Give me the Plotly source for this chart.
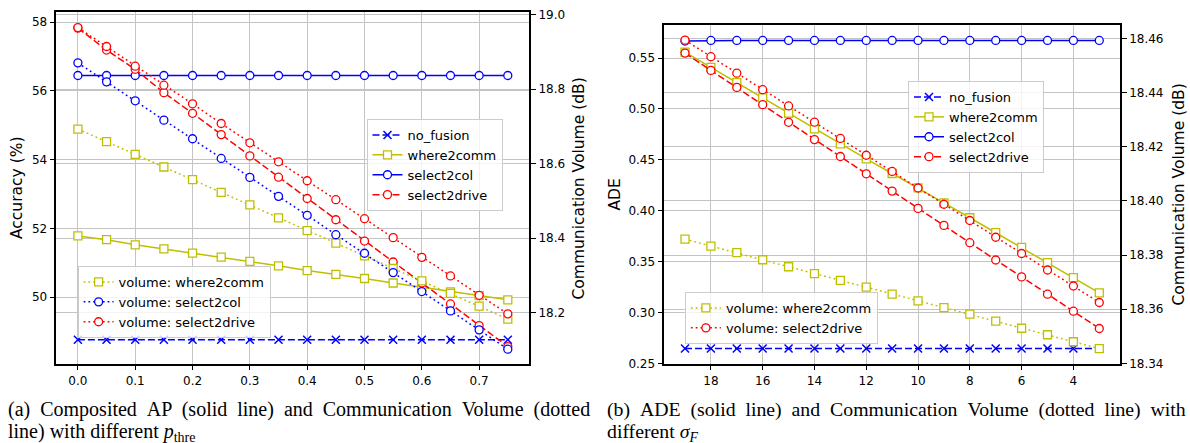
import plotly.graph_objects as go

# ---------------- data: panel (a) ----------------
p_thre = [0.0, 0.05, 0.1, 0.15, 0.2, 0.25, 0.3, 0.35, 0.4, 0.45, 0.5, 0.55, 0.6, 0.65, 0.7, 0.75]
acc_no_fusion = [48.76, 48.76, 48.76, 48.76, 48.76, 48.76, 48.76, 48.76, 48.76, 48.76, 48.76, 48.76, 48.76, 48.76, 48.76, 48.76]
acc_where2comm = [51.78, 51.67, 51.52, 51.40, 51.28, 51.16, 51.04, 50.91, 50.77, 50.66, 50.54, 50.41, 50.29, 50.15, 50.04, 49.92]
acc_select2col = [56.45, 56.45, 56.45, 56.45, 56.45, 56.45, 56.45, 56.45, 56.45, 56.45, 56.45, 56.45, 56.45, 56.45, 56.45, 56.45]
acc_select2drive = [57.83, 57.19, 56.63, 55.95, 55.35, 54.73, 54.11, 53.49, 52.87, 52.25, 51.63, 51.02, 50.41, 49.80, 49.17, 48.56]
vol_a_where2comm = [18.693, 18.659, 18.625, 18.591, 18.557, 18.523, 18.489, 18.454, 18.420, 18.386, 18.352, 18.318, 18.285, 18.251, 18.217, 18.182]
vol_a_select2col = [18.871, 18.820, 18.769, 18.717, 18.667, 18.614, 18.563, 18.512, 18.461, 18.409, 18.359, 18.307, 18.256, 18.204, 18.153, 18.101]
vol_a_select2drive = [18.966, 18.915, 18.862, 18.811, 18.761, 18.708, 18.656, 18.605, 18.554, 18.503, 18.452, 18.401, 18.348, 18.298, 18.246, 18.196]

xticks_a = [0.0, 0.1, 0.2, 0.3, 0.4, 0.5, 0.6, 0.7]
xticklabels_a = ["0.0", "0.1", "0.2", "0.3", "0.4", "0.5", "0.6", "0.7"]
yticks_a = [50, 52, 54, 56, 58]
yticklabels_a = ["50", "52", "54", "56", "58"]
y2ticks_a = [18.2, 18.4, 18.6, 18.8, 19.0]
y2ticklabels_a = ["18.2", "18.4", "18.6", "18.8", "19.0"]

# ---------------- data: panel (b) ----------------
sigma_f = [19, 18, 17, 16, 15, 14, 13, 12, 11, 10, 9, 8, 7, 6, 5, 4, 3]
ade_no_fusion = [0.2647, 0.2647, 0.2647, 0.2647, 0.2647, 0.2647, 0.2647, 0.2647, 0.2647, 0.2647, 0.2647, 0.2647, 0.2647, 0.2647, 0.2647, 0.2647, 0.2647]
ade_where2comm = [0.5559, 0.5408, 0.5258, 0.5108, 0.4958, 0.4804, 0.4657, 0.4510, 0.4366, 0.4225, 0.4078, 0.3931, 0.3784, 0.3640, 0.3490, 0.3343, 0.3193]
ade_select2col = [0.5667, 0.5673, 0.5673, 0.5673, 0.5673, 0.5673, 0.5673, 0.5673, 0.5673, 0.5673, 0.5673, 0.5673, 0.5673, 0.5673, 0.5673, 0.5673, 0.5673]
ade_select2drive = [0.5549, 0.5379, 0.5212, 0.5042, 0.4869, 0.4699, 0.4533, 0.4363, 0.4193, 0.4023, 0.3856, 0.3686, 0.3516, 0.3350, 0.3180, 0.3013, 0.2843]
vol_b_where2comm = [18.3859, 18.3833, 18.3809, 18.3783, 18.3757, 18.3732, 18.3707, 18.3682, 18.3656, 18.3631, 18.3606, 18.3582, 18.3556, 18.3530, 18.3506, 18.3480, 18.3455]
vol_b_select2drive = [18.4594, 18.4533, 18.4472, 18.4411, 18.4351, 18.4291, 18.4231, 18.4169, 18.4109, 18.4048, 18.3988, 18.3928, 18.3866, 18.3806, 18.3745, 18.3686, 18.3625]

xticks_b = [18, 16, 14, 12, 10, 8, 6, 4]
xticklabels_b = ["18", "16", "14", "12", "10", "8", "6", "4"]
yticks_b = [0.25, 0.30, 0.35, 0.40, 0.45, 0.50, 0.55]
yticklabels_b = ["0.25", "0.30", "0.35", "0.40", "0.45", "0.50", "0.55"]
y2ticks_b = [18.34, 18.36, 18.38, 18.40, 18.42, 18.44, 18.46]
y2ticklabels_b = ["18.34", "18.36", "18.38", "18.40", "18.42", "18.44", "18.46"]

# ---------------- styling ----------------
W, H = 1190, 443
YEL = "#bfbf00"
BLU = "#0000ff"
RED = "#ff0000"
DASH = "7px,3px"
DOT = "1.8px,3px"
SOLID = "solid"
GRID = "#c4c4c4"
TICKFONT = dict(family="DejaVu Sans", size=12, color="black")

fig = go.Figure()


def add(x, y, name, color, symbol, dash, xa, ya, legend):
    if symbol == "x":
        marker = dict(symbol="x-thin", size=8, line=dict(color=color, width=1.5), color=color)
    else:
        marker = dict(symbol=symbol, size=8, color="white", line=dict(color=color, width=1.3))
    fig.add_trace(go.Scatter(
        x=x, y=y, name=name, mode="lines+markers",
        line=dict(color=color, width=1.5, dash=dash),
        marker=marker, xaxis=xa, yaxis=ya, legend=legend,
    ))


# panel (a)
add(p_thre, acc_no_fusion, "no_fusion", BLU, "x", DASH, "x", "y", "legend")
add(p_thre, acc_where2comm, "where2comm", YEL, "square", SOLID, "x", "y", "legend")
add(p_thre, acc_select2col, "select2col", BLU, "circle", SOLID, "x", "y", "legend")
add(p_thre, acc_select2drive, "select2drive", RED, "circle", DASH, "x", "y", "legend")
add(p_thre, vol_a_where2comm, "volume: where2comm", YEL, "square", DOT, "x", "y2", "legend2")
add(p_thre, vol_a_select2col, "volume: select2col", BLU, "circle", DOT, "x", "y2", "legend2")
add(p_thre, vol_a_select2drive, "volume: select2drive", RED, "circle", DOT, "x", "y2", "legend2")

# panel (b)
add(sigma_f, ade_no_fusion, "no_fusion", BLU, "x", DASH, "x2", "y3", "legend3")
add(sigma_f, ade_where2comm, "where2comm", YEL, "square", SOLID, "x2", "y3", "legend3")
add(sigma_f, ade_select2col, "select2col", BLU, "circle", SOLID, "x2", "y3", "legend3")
add(sigma_f, ade_select2drive, "select2drive", RED, "circle", DASH, "x2", "y3", "legend3")
add(sigma_f, vol_b_where2comm, "volume: where2comm", YEL, "square", DOT, "x2", "y4", "legend4")
add(sigma_f, vol_b_select2drive, "volume: select2drive", RED, "circle", DOT, "x2", "y4", "legend4")


def ax(**kw):
    base = dict(showline=True, linecolor="black", linewidth=1.5, ticks="outside",
                ticklen=5, tickwidth=1.2, tickcolor="black", showgrid=True,
                gridcolor=GRID, gridwidth=1.1, zeroline=False, tickfont=TICKFONT,
                automargin=False, tickmode="array")
    base.update(kw)
    return base


def py(p):
    return 1 - p / H


def px(p):
    return p / W


dom_a = [px(56.4), px(529.3)]
dom_b = [px(664.3), px(1120.0)]
ydom_a = [py(363.7), py(12.3)]
ydom_b = [py(363.7), py(25.0)]

leg = dict(xanchor="left", yanchor="top", bgcolor="rgba(255,255,255,0.8)",
           bordercolor="#cccccc", borderwidth=1, itemwidth=30, tracegroupgap=0,
           font=dict(family="DejaVu Sans", size=13, color="black"))

fig.update_layout(
    width=W, height=H, margin=dict(l=0, r=0, t=0, b=0),
    paper_bgcolor="white", plot_bgcolor="white",
    xaxis=ax(domain=dom_a, anchor="y", range=[-0.0375, 0.7875], mirror=True,
             tickvals=xticks_a, ticktext=xticklabels_a),
    yaxis=ax(domain=ydom_a, anchor="x", range=[48.06, 58.29],
             tickvals=yticks_a, ticktext=yticklabels_a),
    yaxis2=ax(overlaying="y", side="right", anchor="x", range=[18.062, 19.007],
              tickvals=y2ticks_a, ticktext=y2ticklabels_a),
    xaxis2=ax(domain=dom_b, anchor="y3", range=[19.8, 2.2], mirror=True,
              tickvals=xticks_b, ticktext=xticklabels_b),
    yaxis3=ax(domain=ydom_b, anchor="x2", range=[0.2497, 0.5825],
              tickvals=yticks_b, ticktext=yticklabels_b),
    yaxis4=ax(overlaying="y3", side="right", anchor="x2", range=[18.3399, 18.465],
              tickvals=y2ticks_b, ticktext=y2ticklabels_b),
    legend=dict(leg, x=px(366.5), y=py(119)),
    legend2=dict(leg, x=px(77.6), y=py(266)),
    legend3=dict(leg, x=px(908), y=py(81)),
    legend4=dict(leg, x=px(684.9), y=py(292)),
)

TITLEFONT = dict(family="DejaVu Sans", size=15.5, color="black")
for txt, cx, cy in [("Accuracy (%)", 17, 188),
                    ("Communication Volume (dB)", 578, 188.5),
                    ("ADE", 614, 194.5),
                    ("Communication Volume (dB)", 1178, 194.5)]:
    fig.add_annotation(text=txt, x=px(cx), y=py(cy), xref="paper", yref="paper",
                       xanchor="center", yanchor="middle", textangle=-90,
                       showarrow=False, font=TITLEFONT)

S = " \u00a0"
captions = [
    ("(a) Composited AP (solid line) and Communication Volume (dotted".replace(" ", S), 7, 409.5, 20),
    ("line) with different <i>p</i><sub>thre</sub>", 7, 432.2, 20),
    ("(b) ADE (solid line) and Communication Volume (dotted line) with".replace(" ", S), 606, 409.5, 19.8),
    ("different <i>σ</i><sub><i>F</i></sub>", 606, 432.2, 19.8),
]
for txt, lx, cy, fs in captions:
    fig.add_annotation(text=txt, x=px(lx), y=py(cy), xref="paper", yref="paper",
                       xanchor="left", yanchor="middle", showarrow=False,
                       font=dict(family="Liberation Serif", size=fs, color="black"),
                       borderpad=0)

fig.write_html(
    "out.html",
    config={"displayModeBar": False},
    post_script="document.body.style.margin='0';document.body.style.padding='0';"
                "document.body.style.overflow='hidden';",
)
